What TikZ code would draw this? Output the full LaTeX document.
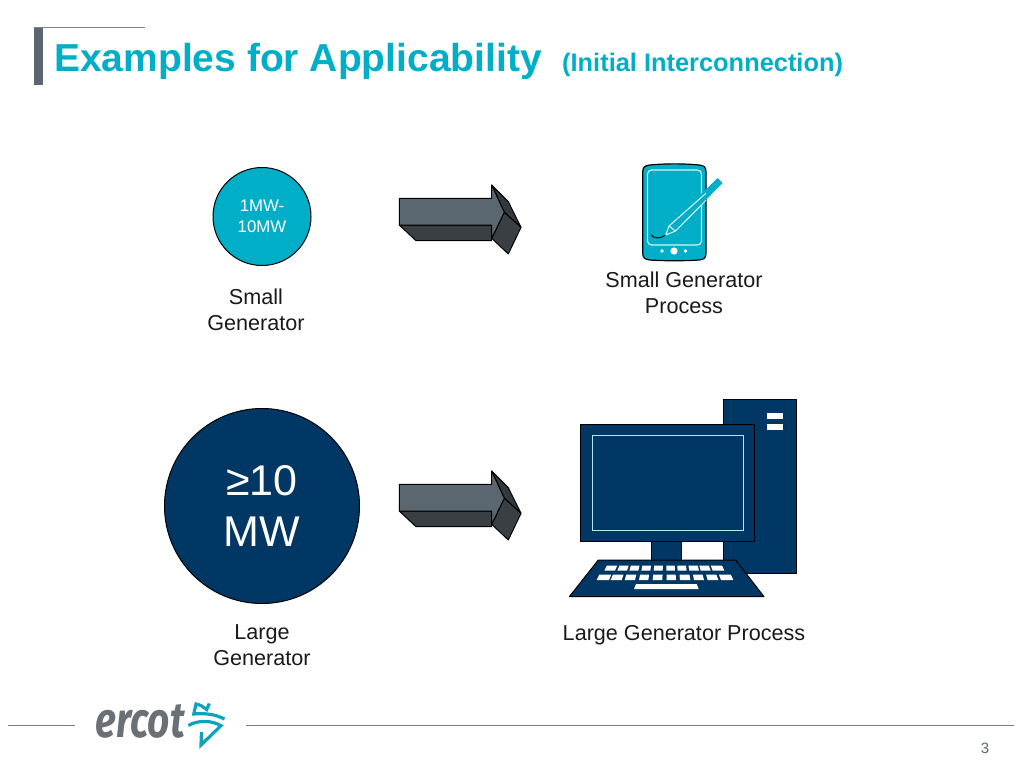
\documentclass[tikz,border=0pt]{standalone}
\usepackage{fontspec}
\setmainfont{Liberation Sans}
\newfontfamily\logofont{Fira Sans}
\definecolor{teal}{HTML}{00AEC7}
\definecolor{navy}{HTML}{003764}
\definecolor{slate}{HTML}{5B6770}
\definecolor{logogray}{HTML}{6A7075}
\definecolor{sidedark}{HTML}{3A3F44}
\definecolor{ink}{HTML}{1A1A1A}
\tikzset{
  label text/.style={font=\fontsize{21.6}{26}\selectfont,align=center,text=ink,inner sep=0pt},
  icon line/.style={draw=black,line width=1pt,line join=round},
  key/.style={fill=white,draw=none},
  rule/.style={draw=slate!85,line width=0.9pt},
  logomark/.style={draw=teal!85!slate,line width=3.2pt,line join=miter},
  pics/bigarrow/.style={code={
    \path[icon line,fill=sidedark] (399.3,225) -- (416,240.7) -- (491.7,240.7) -- (491.7,225) -- cycle;
    \path[icon line,fill=sidedark!90!black] (491.7,185) -- (508.3,201.7) -- (521,227.3) -- (504.3,212.3) -- cycle;
    \path[icon line,fill=sidedark] (504.3,212.3) -- (521,227.3) -- (508.3,254) -- (491.7,238.3) -- cycle;
    \path[icon line,fill=slate] (399.3,198.3) -- (491.7,198.3) -- (491.7,185) -- (504.3,212.3) -- (491.7,238.3) -- (491.7,225) -- (399.3,225) -- cycle;
  }}
}
\begin{document}
\begin{tikzpicture}[x=1pt,y=-1pt]
\useasboundingbox (0,0) rectangle (1024,768);
% title decoration
\fill[slate] (34,27) rectangle (43,85);
\draw[slate!80,line width=0.9pt] (34,27) -- (145,27);
\node[anchor=base west,inner sep=0pt,text=teal,font=\bfseries\fontsize{39}{42}\selectfont] (title) at (54,71) {Examples for Applicability};
\node[anchor=base west,inner sep=0pt,text=teal,font=\bfseries\fontsize{25.4}{28}\selectfont] (subtitle) at (562,71) {(Initial Interconnection)};
% circles
\node[circle,draw=black,line width=1pt,fill=teal,minimum size=98pt,inner sep=0pt,text=white,align=center,font=\fontsize{16.8}{21.5}\selectfont] (small) at (262,216.5) {1MW-\\10MW};
\node[circle,draw=black,line width=1pt,fill=navy,minimum size=195pt,inner sep=0pt,text=white,align=center,font=\fontsize{43}{51}\selectfont] (large) at (262,506) {≥10\\MW};
\node[label text] (smalllab) at (256,309.5) {Small\\Generator};
\node[label text] (largelab) at (262,645.5) {Large\\Generator};
\node[label text] (smallproc) at (684,293) {Small Generator\\Process};
\node[label text] (largeproc) at (684,635) {Large Generator Process};
% arrows
\pic at (0,0) {bigarrow};
\pic at (0,286) {bigarrow};
% tablet
\path[icon line,fill=teal,line width=1.2pt] (642.7,172) .. controls (642.7,167) and (645,165.5) .. (650,165) .. controls (665,163.5) and (684,163.5) .. (699,165) .. controls (704,165.5) and (706,167) .. (706,172) -- (706,253) .. controls (706,258) and (704,259.5) .. (699,260) .. controls (684,261) and (665,261) .. (650,260) .. controls (645,259.5) and (642.7,258) .. (642.7,253) -- cycle;
\draw[white!85!teal,line width=1.1pt,rounded corners=4pt] (647.5,170) -- (701.5,170) -- (701.5,245) -- (647.5,245) -- cycle;
\fill[white] (662,251) circle (1.8);
\fill[white] (674,251) circle (3.6);
\fill[white] (685.5,251) circle (1.8);
\draw[black,line width=0.9pt] (651,234.7) .. controls (654,239) and (660,239) .. (665.5,235);
\fill[teal] (665.7,235) -- (668.5,225.5) -- (717.7,178) -- (722.5,183) -- (675.5,231) -- cycle;
\begin{scope}
  \clip (642.7,165) rectangle (706,260);
  \draw[white!90!teal,line width=1pt,line join=round] (730,172) -- (669,226) -- (665.7,235) -- (675.5,231) -- (730,176) (669,226) -- (675.5,231);
\end{scope}
% computer
\path[icon line,fill=navy] (723,399.3) rectangle (796.3,573.3);
\fill[white] (767,413.3) rectangle (782.7,419.3);
\fill[white] (767,424) rectangle (782.7,430);
\path[icon line,fill=navy] (651.7,541) rectangle (681.7,561);
\path[icon line,fill=navy] (580.7,424) rectangle (754.3,541);
\draw[white!70!teal,line width=1pt] (592,435.7) rectangle (743.7,530.3);
\path[icon line,fill=navy] (598.3,560) -- (735.7,560) -- (764,596.7) -- (569.3,596.7) -- cycle;
\foreach \a/\b in {118/150,157/186,193/220,229/256,266/293,304/330,338/365,373/402,407/437,443/478} {
  \pgfmathsetmacro\ax{565+\a/3}
  \pgfmathsetmacro\bx{565+\b/3}
  \pgfmathsetmacro\at{667.5+(\ax-667.5)*0.96}
  \pgfmathsetmacro\bt{667.5+(\bx-667.5)*0.96}
  \fill[key] (\at,565.7) -- (\bt,565.7) -- (\bx,570.7) -- (\ax,570.7) -- cycle;
}
\foreach \a/\b in {95/132,137/170,179/210,222/250,263/292,305/333,345/376,387/417,428/460,468/505} {
  \pgfmathsetmacro\ax{565+\a/3}
  \pgfmathsetmacro\bx{565+\b/3}
  \pgfmathsetmacro\at{667.5+(\ax-667.5)*0.96}
  \pgfmathsetmacro\bt{667.5+(\bx-667.5)*0.96}
  \fill[key] (\at,574.5) -- (\bt,574.5) -- (\bx,580) -- (\ax,580) -- cycle;
}
\fill[key] (636,584) -- (696.7,584) -- (698.7,589.2) -- (634,589.2) -- cycle;
% footer
\draw[rule] (8,725) -- (75,725);
\draw[rule] (246,725) -- (1014,725);
\node[anchor=base west,inner sep=0pt,text=logogray,font=\logofont\bfseries\itshape\fontsize{44}{44}\selectfont] (logo) at (95.5,737) {\pgfinterruptpicture\resizebox{89pt}{33pt}{ercot}\endpgfinterruptpicture};
\draw[logomark] (209.3,703.5) -- (206.7,709.5) -- (201,705.5) -- (196,704) -- (193.8,714) .. controls (204,713) and (215,714) .. (224.5,719);
\draw[logomark] (188.3,725.5) .. controls (198,720) and (211,720) .. (221,725.7) -- (201,745) -- (201.5,732);
\node[anchor=base,inner sep=0pt,text=slate,font=\fontsize{15}{18}\selectfont] (page) at (985,753) {3};
\end{tikzpicture}
\end{document}
